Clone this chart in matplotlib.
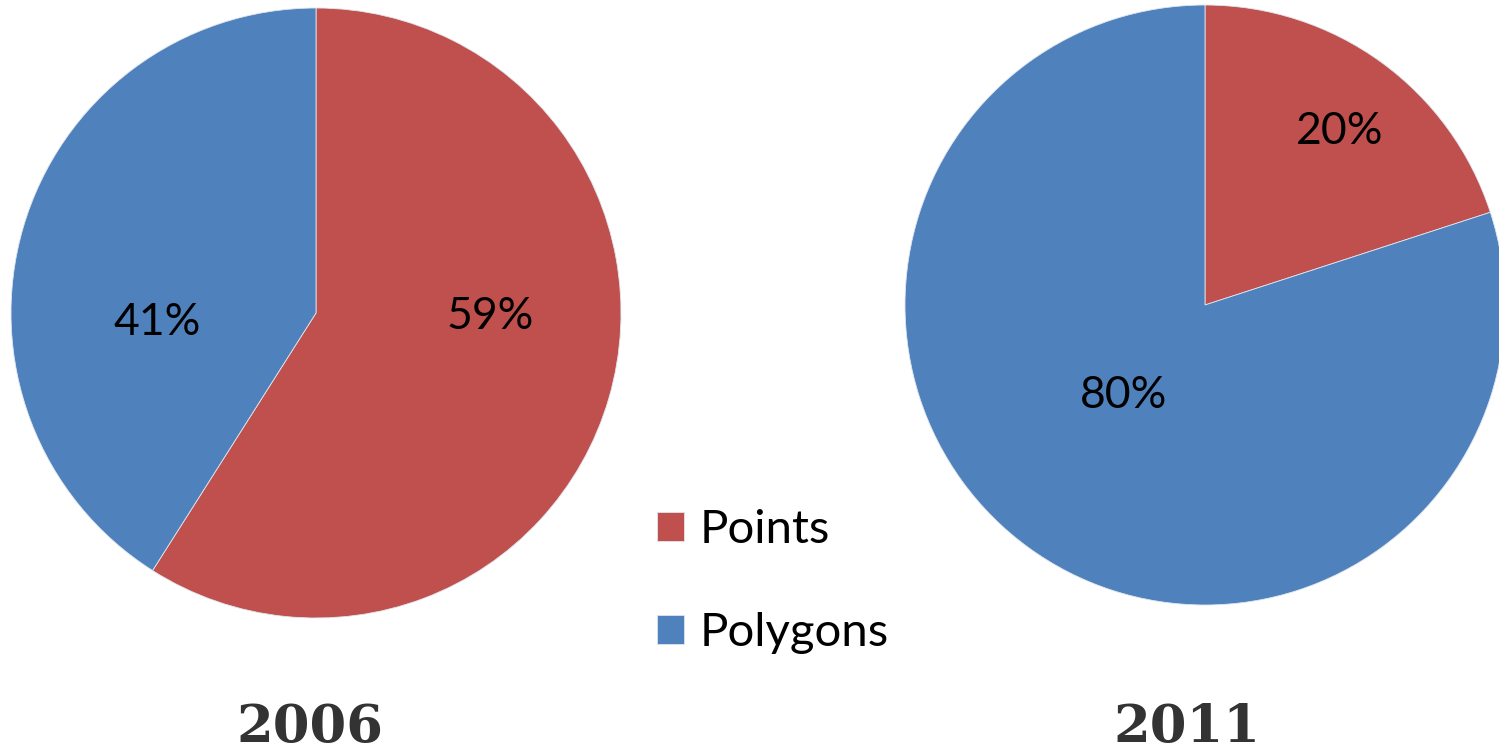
import numpy as np
import matplotlib
matplotlib.use("Agg")
import matplotlib.pyplot as plt

# data
categories = ["Points", "Polygons"]
years = ["2006", "2011"]
shares_2006 = [59, 41]
shares_2011 = [20, 80]
colors = ["#C0504D", "#4F81BD"]

W, H = 1499, 754
fig = plt.figure(figsize=(W / 100, H / 100), dpi=100)
fig.patch.set_facecolor("white")


def pix_axes(cx, cy, r):
    # axes box in pixel coords (top-left origin) -> figure fraction
    return fig.add_axes([(cx - r) / W, (H - cy - r) / H, 2 * r / W, 2 * r / H])


label_font = dict(family="Lato", fontsize=32, color="black")

# left pie, 2006
ax1 = pix_axes(316, 313, 305)
w1, _ = ax1.pie(shares_2006, colors=colors, startangle=90, counterclock=False,
                radius=1, wedgeprops=dict(edgecolor="#dfe6ef", linewidth=0.6))
ax1.set_xlim(-1, 1)
ax1.set_ylim(-1, 1)
ax1.set_aspect("equal")
ax1.axis("off")
# label spots (data-label placement, like the original "best fit")
ax1.text(0.57, -0.01, f"{shares_2006[0]}%", ha="center", va="center", **label_font)
ax1.text(-0.52, -0.03, f"{shares_2006[1]}%", ha="center", va="center", **label_font)

# right pie, 2011
ax2 = pix_axes(1205, 305, 300)
w2, _ = ax2.pie(shares_2011, colors=colors, startangle=90, counterclock=False,
                radius=1, wedgeprops=dict(edgecolor="#dfe6ef", linewidth=0.6))
ax2.set_xlim(-1, 1)
ax2.set_ylim(-1, 1)
ax2.set_aspect("equal")
ax2.axis("off")
ax2.text(0.45, 0.58, f"{shares_2011[0]}%", ha="center", va="center", **label_font)
ax2.text(-0.27, -0.30, f"{shares_2011[1]}%", ha="center", va="center", **label_font)

# legend
leg = fig.legend(w1, categories, loc="upper left", bbox_to_anchor=(657 / W, 1 - 509 / H),
                 frameon=False, prop=dict(family="Lato", size=34),
                 handlelength=0.57, handleheight=0.57, handletextpad=0.34,
                 labelspacing=1.30, borderpad=0, borderaxespad=0)

# year titles
for x, yr in [(310, years[0]), (1187, years[1])]:
    fig.text(x / W, 1 - 742 / H, yr, ha="center", va="baseline",
             family="DejaVu Serif", fontweight="bold", fontsize=38, color="#333333")

fig.savefig("out.png", dpi=100, facecolor="white")
